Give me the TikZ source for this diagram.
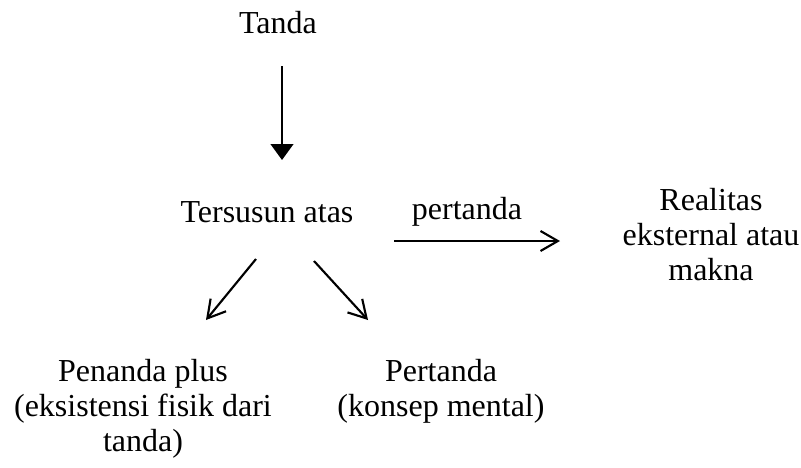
\documentclass[tikz,border=0pt]{standalone}
\usepackage{fontspec}
\setmainfont{Liberation Serif}
\usepackage{tikz}
\usetikzlibrary{arrows.meta}

\begin{document}
\begin{tikzpicture}[x=0.75pt,y=-0.75pt,
    teks/.style={align=center,inner sep=0pt,font=\fontsize{24}{26.25}\selectfont},
    panah/.style={line width=1.6pt,-{Straight Barb[length=13pt,width=15pt,line width=1.6pt]}},
    panahpenuh/.style={line width=1.8pt,-{Triangle[length=12pt,width=17pt]}}]
    \useasboundingbox (0,0) rectangle (801,468);
    % teks
    \node[teks,anchor=base] (tanda) at (278,33) {Tanda};
    \node[teks,anchor=base] (tersusun) at (267,222) {Tersusun atas};
    \node[teks,anchor=base] (pertanda) at (467,219) {pertanda};
    \node[teks] (realitas) at (711,235) {Realitas\\eksternal atau\\makna};
    \node[teks] (penanda) at (143,409) {Penanda plus\\(eksistensi fisik dari\\tanda)};
    \node[teks] (konsep) at (441,391) {Pertanda\\(konsep mental)};
    % ujung panah
    \coordinate (a1) at (282,66);
    \coordinate (a2) at (282,160);
    \coordinate (b1) at (394,241);
    \coordinate (b2) at (560,241);
    \coordinate (c1) at (256,259);
    \coordinate (c2) at (206,320);
    \coordinate (d1) at (314,261);
    \coordinate (d2) at (368,320);
    \draw[panahpenuh] (a1) -- (a2);
    \draw[panah] (b1) -- (b2);
    \draw[panah] (c1) -- (c2);
    \draw[panah] (d1) -- (d2);
\end{tikzpicture}
\end{document}
